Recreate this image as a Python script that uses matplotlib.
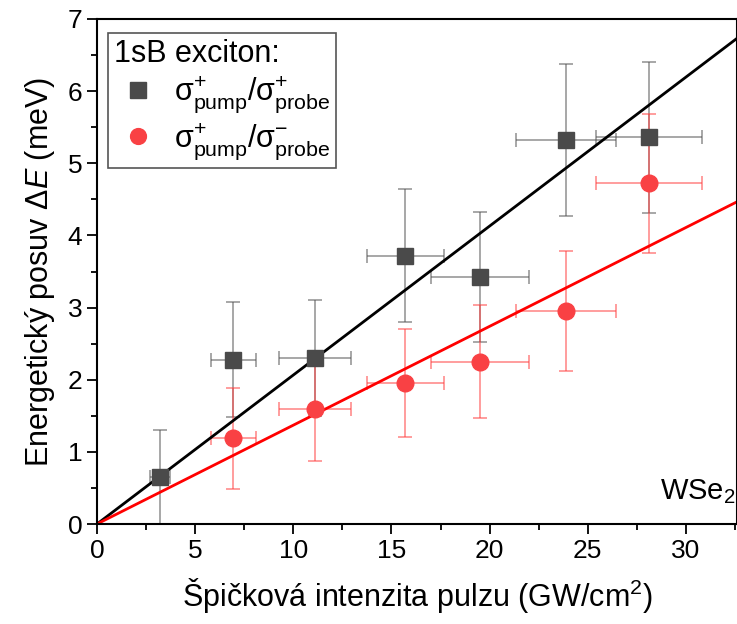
import numpy as np
import matplotlib
matplotlib.use('Agg')
import matplotlib.pyplot as plt
from matplotlib.ticker import MultipleLocator
from matplotlib import font_manager

plt.rcParams['font.family'] = ['Liberation Sans', 'DejaVu Sans']
plt.rcParams['mathtext.fontset'] = 'custom'
plt.rcParams['mathtext.rm'] = 'Liberation Sans'
plt.rcParams['mathtext.it'] = 'Liberation Sans:italic'

# intensity (GW/cm^2) and its uncertainty
x_same = [3.2, 6.95, 11.1, 15.7, 19.5, 23.9, 28.1]
xerr_same = [0.5, 1.15, 1.85, 1.95, 2.5, 2.55, 2.7]
# sigma+/sigma+ shift (meV)
y_same = [0.65, 2.28, 2.3, 3.72, 3.42, 5.32, 5.36]
yerr_same = [0.65, 0.8, 0.8, 0.92, 0.9, 1.05, 1.05]

x_opp = [6.95, 11.1, 15.7, 19.5, 23.9, 28.1]
xerr_opp = [1.15, 1.85, 1.95, 2.5, 2.55, 2.7]
# sigma+/sigma- shift (meV)
y_opp = [1.19, 1.59, 1.95, 2.25, 2.95, 4.72]
yerr_opp = [0.7, 0.72, 0.75, 0.78, 0.83, 0.97]

# linear fits through origin (meV per GW/cm^2)
slope_same = 0.2065
slope_opp = 0.137

fig = plt.figure(figsize=(7.37, 6.24), dpi=100)
ax = fig.add_axes([97/737, 1-524/624, 640/737, 505/624])

xfit = np.array([0, 33])
ax.plot(xfit, slope_same*xfit, color='black', lw=2, zorder=2)
ax.plot(xfit, slope_opp*xfit, color='#ff0000', lw=2, zorder=2)

ax.errorbar(x_same, y_same, xerr=xerr_same, yerr=yerr_same, fmt='none',
            ecolor='#555555', alpha=0.6, elinewidth=1.2, capsize=5, capthick=1.2, zorder=1)
ax.errorbar(x_opp, y_opp, xerr=xerr_opp, yerr=yerr_opp, fmt='none',
            ecolor='#ff4040', alpha=0.6, elinewidth=1.2, capsize=5, capthick=1.2, zorder=1)
l1, = ax.plot(x_same, y_same, 's', color='#4a4a4a', ms=12, zorder=3,
              label=r'σ$^{+}_{\mathrm{pump}}$/σ$^{+}_{\mathrm{probe}}$')
l2, = ax.plot(x_opp, y_opp, 'o', color='#f94144', ms=12, zorder=3,
              label=r'σ$^{+}_{\mathrm{pump}}$/σ$^{-}_{\mathrm{probe}}$')

ax.set_xlim(0, 32.6)
ax.set_ylim(0, 7)
ax.xaxis.set_major_locator(MultipleLocator(5))
ax.xaxis.set_minor_locator(MultipleLocator(2.5))
ax.yaxis.set_major_locator(MultipleLocator(1))
ax.yaxis.set_minor_locator(MultipleLocator(0.5))
ax.tick_params(which='both', direction='out', width=1.3, labelsize=19)
ax.tick_params(which='major', length=7)
ax.tick_params(which='minor', length=4)
for s in ax.spines.values():
    s.set_linewidth(1.5)

# narrow face for the tick numbers if it is there
names = {f.name for f in font_manager.fontManager.ttflist}
if 'Liberation Sans Narrow' in names:
    for lab in ax.get_xticklabels() + ax.get_yticklabels():
        lab.set_fontfamily('Liberation Sans Narrow')

ax.set_xlabel(r'Špičková intenzita pulzu (GW/cm$^2$)', fontsize=22, labelpad=10)
ax.set_ylabel(r'Energetický posuv $\Delta E$ (meV)', fontsize=22, labelpad=8)
ax.text(0.998, 0.035, r'WSe$_2$', transform=ax.transAxes, ha='right', va='bottom', fontsize=21)

leg = ax.legend(handles=[l1, l2], title='1sB exciton:', loc='upper left',
                bbox_to_anchor=(0.017, 0.972), borderaxespad=0, fontsize=22, title_fontsize=22,
                fancybox=False, edgecolor='#555555', framealpha=1, markerscale=0.95,
                handlelength=1.6, handletextpad=0.35, borderpad=0.2, labelspacing=0.2)
leg._legend_box.align = 'left'
leg.get_frame().set_linewidth(1.2)

fig.savefig('out.png', dpi=100)
